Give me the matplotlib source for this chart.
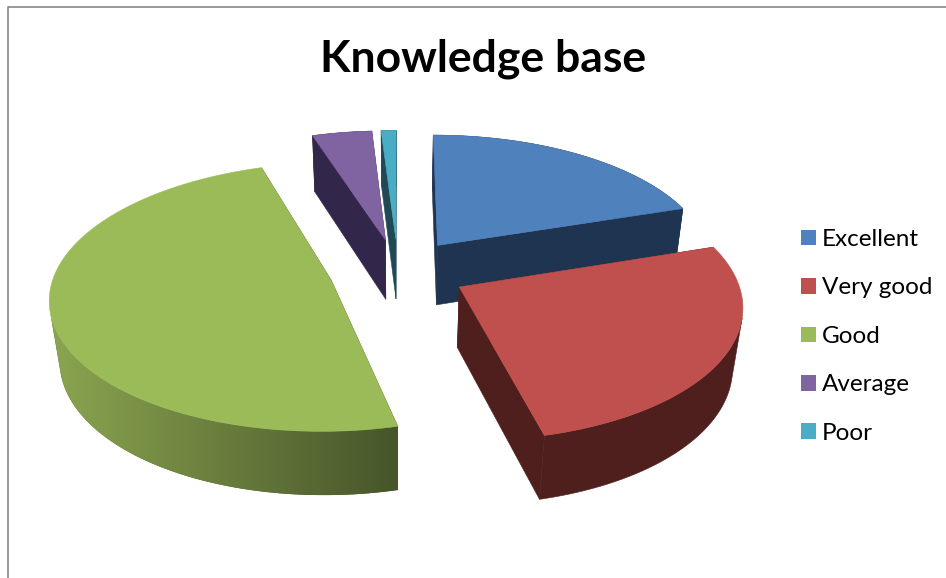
import numpy as np
import matplotlib
matplotlib.use("Agg")
import matplotlib.pyplot as plt
from matplotlib.patches import Polygon, Patch
from matplotlib.colors import LinearSegmentedColormap

# --- data ---
title = "Knowledge base"
categories = ["Excellent", "Very good", "Good", "Average", "Poor"]
values = [20.0, 26.15, 48.85, 4.0, 1.0]
top_colors = ["#4f81bd", "#c0504d", "#9bbb59", "#8064a2", "#4bacc6"]
side_colors = ["#1f3450", "#4f1f1d", "#46552a", "#32274a", "#1f4a55"]

# --- projection of the exploded 3D pie ---
X0, Y0 = 398.0, 271.0
RX, RY, H = 276.0, 130.0, 62.0
PERSP, PERSP_D = 0.125, 0.03
EXPLODE = 0.25


def project(u, v, d):
    w = 1 + PERSP * v + PERSP_D * d
    return X0 + RX * u / w, Y0 + (-RY * v + H * d) / w


def area(q):
    q = np.array(q)
    x, y = q[:, 0], q[:, 1]
    return 0.5 * np.sum(x * np.roll(y, -1) - y * np.roll(x, -1))


fig = plt.figure(figsize=(9.46, 5.78), dpi=100)
ax = fig.add_axes([0, 0, 1, 1])

# outer chart frame (only left/top fall in the crop)
ax.plot([7.5, 7.5, 960], [600, 6.5, 6.5], color="#868686", lw=1.2, zorder=0)

fracs = np.array(values) / sum(values)
edges = np.concatenate([[0], np.cumsum(fracs)]) * 2 * np.pi


def face(pts, color, z):
    p = Polygon(pts, closed=True, facecolor=color, edgecolor=color, lw=0.4, zorder=z)
    ax.add_patch(p)
    return p


green_ramp = LinearSegmentedColormap.from_list("rim", ["#8ba550", "#46552a"])

for i in [3, 4, 0, 2, 1]:
    a0, a1 = edges[i], edges[i + 1]
    mid = (a0 + a1) / 2
    cu, cv = EXPLODE * np.sin(mid), EXPLODE * np.cos(mid)
    th = np.linspace(a0, a1, max(int((a1 - a0) * 60), 6))
    us, vs = cu + np.sin(th), cv + np.cos(th)
    base = {3: 10, 4: 20, 0: 30, 2: 40, 1: 50}[i]
    # radial cut faces
    for a_u, a_v in [(us[0], vs[0]), (us[-1], vs[-1])]:
        face([project(cu, cv, 0), project(a_u, a_v, 0),
              project(a_u, a_v, 1), project(cu, cv, 1)], side_colors[i], base + 1)
    # outer rim: only the strips that face the viewer, merged into one polygon
    areas = np.array([area([project(us[k], vs[k], 0), project(us[k + 1], vs[k + 1], 0),
                            project(us[k + 1], vs[k + 1], 1), project(us[k], vs[k], 1)])
                      for k in range(len(us) - 1)])
    facing = np.where(areas > 0)[0] if areas[np.argmin(vs[:-1])] > 0 else np.where(areas < 0)[0]
    if len(facing):
        j0, j1 = facing.min(), facing.max() + 2
        ru, rv = us[j0:j1], vs[j0:j1]
        rim = [project(a, b, 0) for a, b in zip(ru, rv)] + \
              [project(a, b, 1) for a, b in zip(ru[::-1], rv[::-1])]
        p = face(rim, side_colors[i], base + 2)
        if i == 2:  # horizontal gradient on the green rim
            ys = [q[1] for q in rim]
            p.set_edgecolor("none")
            im = ax.imshow(np.linspace(0, 1, 256)[None, :], cmap=green_ramp, aspect="auto",
                           extent=[50, 398, max(ys), min(ys)], zorder=base + 2.5,
                           interpolation="bilinear")
            im.set_clip_path(p)
    top = [project(cu, cv, 0)] + [project(a, b, 0) for a, b in zip(us, vs)]
    face(top, top_colors[i], base + 3)

ax.set_xlim(0, 946)
ax.set_ylim(578, 0)
ax.axis("off")

ax.text(483.5, 59, title, ha="center", va="center", family="Lato",
        fontweight="bold", fontsize=32, color="black")

handles = [Patch(facecolor=c, edgecolor="none", label=l)
           for c, l in zip(top_colors, categories)]
leg = ax.legend(handles=handles, loc="upper left",
                bbox_to_anchor=(801 / 946, 1 - 229 / 578),
                frameon=False, prop={"family": "Lato", "size": 17.5},
                handlelength=0.62, handleheight=0.62, handletextpad=0.25,
                labelspacing=1.13, borderpad=0, borderaxespad=0)

fig.savefig("out.png", dpi=100, facecolor="white")
